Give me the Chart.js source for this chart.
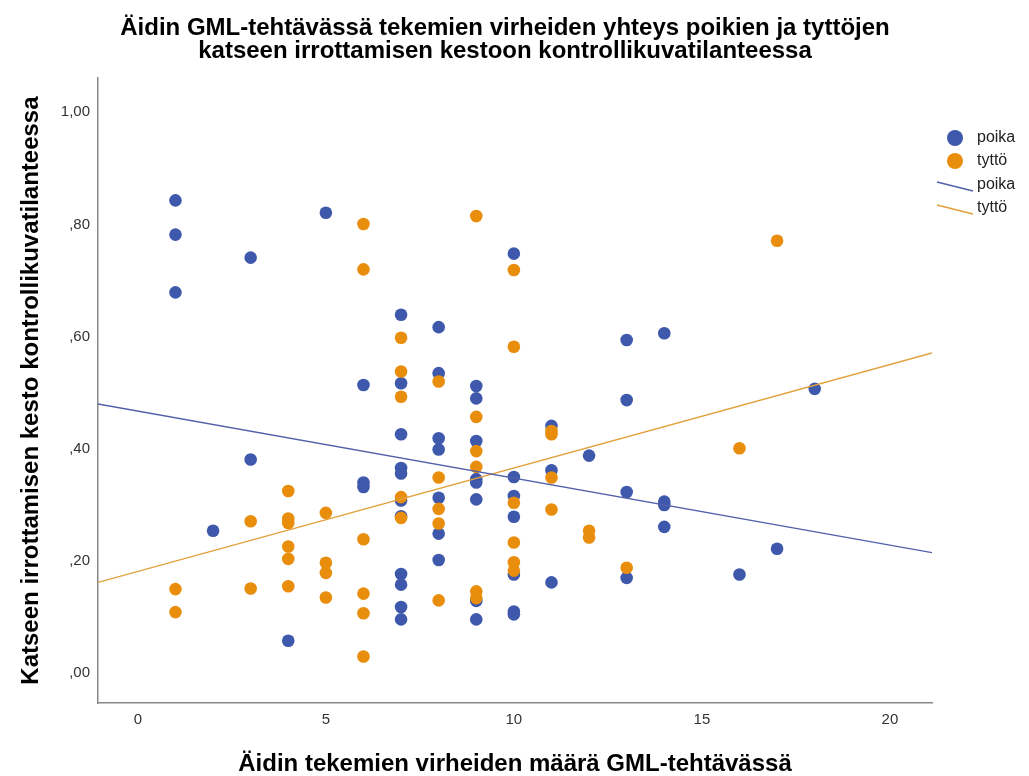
<!DOCTYPE html>
<html>
<head>
<meta charset="utf-8">
<script src="https://cdn.jsdelivr.net/npm/chart.js@4.4.1/dist/chart.umd.min.js"></script>
<style>
  html, body { margin: 0; padding: 0; background: #fff; }
</style>
</head>
<body>
<canvas id="chart" width="1029" height="776"></canvas>
<script>
const titleLines = [
  "Äidin GML-tehtävässä tekemien virheiden yhteys poikien ja tyttöjen",
  "katseen irrottamisen kestoon kontrollikuvatilanteessa"
];
const xTitle = "Äidin tekemien virheiden määrä GML-tehtävässä";
const yTitle = "Katseen irrottamisen kesto kontrollikuvatilanteessa";
const groupLabels = ["poika", "tyttö"];
const xTicks = [0, 5, 10, 15, 20];
const yTicks = [0, 0.2, 0.4, 0.6, 0.8, 1.0];

// poika (boys)
const poikaX = [1, 1, 1, 2, 3, 3, 4, 5, 6, 6, 6,
  7, 7, 7, 7, 7, 7, 7, 7, 7, 7, 7,
  8, 8, 8, 8, 8, 8, 8,
  9, 9, 9, 9, 9, 9, 9, 9,
  10, 10, 10, 10, 10, 10, 10,
  11, 11, 11, 12, 13, 13, 13, 13, 14, 14, 14, 14, 16, 17, 18];
const poikaY = [0.843, 0.782, 0.679, 0.254, 0.741, 0.381, 0.058, 0.821, 0.514, 0.340, 0.332,
  0.639, 0.517, 0.426, 0.366, 0.356, 0.308, 0.280, 0.177, 0.158, 0.118, 0.096,
  0.617, 0.535, 0.419, 0.399, 0.313, 0.249, 0.202,
  0.512, 0.490, 0.414, 0.346, 0.340, 0.310, 0.129, 0.096,
  0.748, 0.350, 0.316, 0.279, 0.176, 0.110, 0.105,
  0.441, 0.362, 0.162, 0.388, 0.594, 0.487, 0.323, 0.170, 0.606, 0.306, 0.300, 0.261, 0.176, 0.222, 0.507];

// tyttö (girls)
const tyttoX = [1, 1, 3, 3, 4, 4, 4, 4, 4, 4, 5, 5, 5, 5,
  6, 6, 6, 6, 6, 6, 7, 7, 7, 7, 7, 8, 8, 8, 8, 8,
  9, 9, 9, 9, 9, 9, 10, 10, 10, 10, 10, 10,
  11, 11, 11, 11, 12, 12, 13, 16, 17];
const tyttoY = [0.150, 0.109, 0.271, 0.151, 0.325, 0.276, 0.268, 0.226, 0.204, 0.155, 0.286, 0.197, 0.179, 0.135,
  0.801, 0.720, 0.239, 0.142, 0.107, 0.030, 0.598, 0.538, 0.493, 0.314, 0.277, 0.520, 0.349, 0.293, 0.267, 0.130,
  0.815, 0.457, 0.396, 0.368, 0.146, 0.134, 0.719, 0.582, 0.304, 0.233, 0.198, 0.183,
  0.432, 0.426, 0.349, 0.292, 0.254, 0.242, 0.188, 0.401, 0.771];

// fit lines, read at the left and right edge of the plot
const fitX = [-1.06, 21.12];
const fitPoika = [0.480, 0.215];
const fitTytto = [0.162, 0.571];

const blue = "#3E58AC";
const orange = "#E88E0C";
const blueLine = "#5260AA";
const orangeLine = "#E2A03A";
const fontFam = '"Liberation Sans", Arial, sans-serif';

const toPoints = (xs, ys) => xs.map((x, i) => ({ x: x, y: ys[i] }));

function fmtY(v) {
  let s = v.toFixed(2).replace(".", ",");
  if (s.startsWith("0,")) s = s.slice(1);
  return s;
}

const sideLegend = {
  id: "sideLegend",
  afterDraw(chart) {
    const ctx = chart.ctx;
    ctx.save();
    ctx.font = "16px " + fontFam;
    ctx.textBaseline = "middle";
    ctx.fillStyle = "#222";
    // dots
    [[blue, groupLabels[0], 138], [orange, groupLabels[1], 161]].forEach(([c, t, y]) => {
      ctx.beginPath();
      ctx.arc(955, y, 8, 0, Math.PI * 2);
      ctx.fillStyle = c;
      ctx.fill();
      ctx.fillStyle = "#222";
      ctx.fillText(t, 977, y);
    });
    // lines
    [[blueLine, groupLabels[0], 185], [orangeLine, groupLabels[1], 208]].forEach(([c, t, y]) => {
      ctx.beginPath();
      ctx.moveTo(937, y - 3);
      ctx.lineTo(973, y + 6);
      ctx.strokeStyle = c;
      ctx.lineWidth = 1.4;
      ctx.stroke();
      ctx.fillText(t, 977, y);
    });
    ctx.restore();
  }
};

new Chart(document.getElementById("chart"), {
  type: "scatter",
  data: {
    datasets: [
      {
        label: groupLabels[0] + " fit",
        type: "line",
        data: toPoints(fitX, fitPoika),
        borderColor: blueLine,
        borderWidth: 1.3,
        pointRadius: 0,
        fill: false,
        order: 0,
      },
      {
        label: groupLabels[1] + " fit",
        type: "line",
        data: toPoints(fitX, fitTytto),
        borderColor: orangeLine,
        borderWidth: 1.3,
        pointRadius: 0,
        fill: false,
        order: 0,
      },
      {
        label: groupLabels[1],
        data: toPoints(tyttoX, tyttoY),
        backgroundColor: orange,
        borderColor: orange,
        borderWidth: 0,
        pointRadius: 6.3,
        order: 1,
      },
      {
        label: groupLabels[0],
        data: toPoints(poikaX, poikaY),
        backgroundColor: blue,
        borderColor: blue,
        borderWidth: 0,
        pointRadius: 6.3,
        order: 2,
      },
    ],
  },
  options: {
    responsive: false,
    animation: false,
    layout: { padding: { top: 0, right: 19, bottom: 0, left: 0 } },
    plugins: {
      legend: { display: false },
      tooltip: { enabled: false },
      title: {
        display: true,
        text: titleLines,
        color: "#000",
        font: { family: fontFam, size: 24, weight: "bold", lineHeight: 0.96 },
        padding: { top: 17, bottom: 15 },
      },
    },
    scales: {
      x: {
        type: "linear",
        min: fitX[0],
        max: fitX[1],
        afterBuildTicks: (s) => { s.ticks = xTicks.map((v) => ({ value: v })); },
        afterFit: (s) => { s.height = 73; },
        grid: { display: false, drawTicks: false },
        border: { display: true, color: "#888", width: 1.5 },
        ticks: { color: "#333", padding: 8, font: { family: fontFam, size: 15 } },
        title: {
          display: true,
          text: xTitle,
          color: "#000",
          font: { family: fontFam, size: 24, weight: "bold", lineHeight: 1 },
          padding: { top: 0, bottom: 0 },
        },
      },
      y: {
        type: "linear",
        min: -0.053,
        max: 1.061,
        afterBuildTicks: (s) => { s.ticks = yTicks.map((v) => ({ value: v })); },
        afterFit: (s) => { s.width = 98; },
        grid: { display: false, drawTicks: false },
        border: { display: true, color: "#888", width: 1.5 },
        ticks: { color: "#333", padding: 8, font: { family: fontFam, size: 15 }, callback: (v) => fmtY(v) },
        title: {
          display: true,
          text: yTitle,
          color: "#000",
          font: { family: fontFam, size: 24, weight: "bold", lineHeight: 1.2 },
          padding: { top: 17, bottom: 0 },
        },
      },
      yRight: {
        type: "linear",
        position: "right",
        display: true,
        afterFit: (s) => { s.width = 78; },
        grid: { display: false, drawTicks: false },
        border: { display: false },
        ticks: { display: false },
      },
    },
  },
  plugins: [sideLegend],
});
</script>
</body>
</html>
